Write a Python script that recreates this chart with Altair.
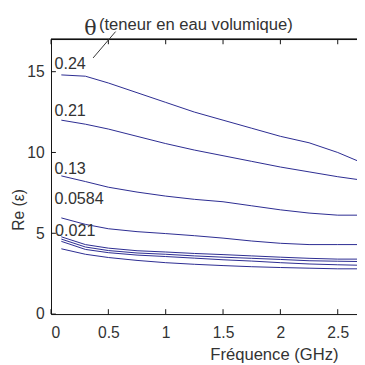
import altair as alt
import pandas as pd

# ---------------- data ----------------
freq = [0.09, 0.3, 0.5, 0.75, 1.0, 1.25, 1.5, 1.75, 2.0, 2.25, 2.5, 2.7]
re_024 = [14.8, 14.72, 14.3, 13.7, 13.1, 12.5, 12.0, 11.5, 11.0, 10.6, 10.0, 9.4]
re_021 = [12.0, 11.75, 11.45, 11.0, 10.55, 10.15, 9.8, 9.45, 9.1, 8.8, 8.5, 8.3]
re_013 = [8.55, 8.2, 7.85, 7.55, 7.3, 7.1, 6.95, 6.7, 6.45, 6.25, 6.12, 6.12]
re_0584 = [5.95, 5.55, 5.28, 5.1, 4.98, 4.85, 4.7, 4.52, 4.38, 4.3, 4.3, 4.3]
re_021a = [4.78, 4.3, 4.08, 3.92, 3.84, 3.75, 3.68, 3.6, 3.52, 3.45, 3.4, 3.4]
re_021b = [4.64, 4.15, 3.93, 3.78, 3.7, 3.6, 3.52, 3.45, 3.38, 3.3, 3.27, 3.25]
re_021c = [4.5, 4.0, 3.8, 3.65, 3.56, 3.46, 3.36, 3.28, 3.18, 3.1, 3.05, 3.02]
re_021d = [4.04, 3.7, 3.5, 3.32, 3.18, 3.08, 3.0, 2.93, 2.88, 2.84, 2.8, 2.8]

series_names = ["0.24", "0.21", "0.13", "0.0584", "0.021a", "0.021b", "0.021c", "0.021d"]
series_values = [re_024, re_021, re_013, re_0584, re_021a, re_021b, re_021c, re_021d]

label_text = ["0.24", "0.21", "0.13", "0.0584", "0.021"]
label_x = [0.03, 0.03, 0.03, 0.03, 0.035]
label_y = [15.18, 12.28, 8.65, 6.84, 4.86]

x_ticks = [0, 0.5, 1, 1.5, 2, 2.5]
y_ticks = [0, 5, 10, 15]

# annotation (theta label + pointer), in data units
theta_x, theta_y = 0.29, 17.27
note_x, note_y = 0.418, 17.58
pointer = {"x": 0.563, "y": 17.48, "x2": 0.367, "y2": 15.85}

# ---------------- build tables ----------------
rows = []
for name, vals in zip(series_names, series_values):
    for f, v in zip(freq, vals):
        rows.append({"serie": name, "f": f, "re": v})
curves = pd.DataFrame(rows)
labels = pd.DataFrame({"t": label_text, "x": label_x, "y": label_y})
xt = pd.DataFrame({"x": x_ticks})
yt = pd.DataFrame({"y": y_ticks})

W, H = 313, 281
XMAX = 2.668
xs = alt.Scale(domain=[0, XMAX], nice=False, zero=False)
ys = alt.Scale(domain=[0, 17], nice=False, zero=False)
FONT = "Liberation Sans"
TXT = "#333333"

lines = alt.Chart(curves).mark_line(color="#28288f", strokeWidth=1, clip=True).encode(
    x=alt.X("f:Q", scale=xs, axis=alt.Axis(
        values=x_ticks, format="~g", tickSize=0, grid=False, domainColor="#111111",
        labelFont=FONT, labelFontSize=16, labelColor=TXT, labelPadding=11,
        title="Fréquence (GHz)", titleFont=FONT, titleFontSize=17,
        titleFontWeight="normal", titleColor=TXT, titleX=228, titleY=33,
        titleBaseline="top", titleAlign="center")),
    y=alt.Y("re:Q", scale=ys, axis=alt.Axis(
        values=y_ticks, format="~g", tickSize=0, grid=False, domainColor="#111111",
        labelFont=FONT, labelFontSize=16, labelColor=TXT, labelPadding=7,
        title="Re (ε)", titleFont=FONT, titleFontSize=16,
        titleFontWeight="normal", titleColor=TXT, titleX=-25, titleY=174,
        titleBaseline="bottom", titleAlign="center", titleAngle=270)),
    detail="serie:N",
)

text_labels = alt.Chart(labels).mark_text(
    align="left", baseline="alphabetic", font=FONT, fontSize=16.5, color=TXT
).encode(x=alt.X("x:Q", scale=xs), y=alt.Y("y:Q", scale=ys), text="t:N")

bottom_ticks = alt.Chart(xt).mark_rule(color="#111111").encode(
    x=alt.X("x:Q", scale=xs), y=alt.value(H), y2=alt.value(H - 5))
top_ticks = alt.Chart(xt).mark_rule(color="#111111").encode(
    x=alt.X("x:Q", scale=xs), y=alt.value(0), y2=alt.value(5))
left_ticks = alt.Chart(yt).mark_rule(color="#111111").encode(
    y=alt.Y("y:Q", scale=ys), x=alt.value(0), x2=alt.value(5))
top_border = alt.Chart(xt).mark_rule(color="#111111").encode(
    x=alt.value(0), x2=alt.value(W), y=alt.value(0))

theta = alt.Chart(pd.DataFrame({"x": [theta_x], "y": [theta_y], "t": ["θ"]})).mark_text(
    align="left", baseline="alphabetic", font="DejaVu Serif", fontSize=21, color=TXT
).encode(x=alt.X("x:Q", scale=xs), y=alt.Y("y:Q", scale=ys), text="t:N")
note = alt.Chart(pd.DataFrame({"x": [note_x], "y": [note_y], "t": ["(teneur en eau volumique)"]})).mark_text(
    align="left", baseline="alphabetic", font=FONT, fontSize=17, color=TXT
).encode(x=alt.X("x:Q", scale=xs), y=alt.Y("y:Q", scale=ys), text="t:N")
pointer_line = alt.Chart(pd.DataFrame([pointer])).mark_rule(color="#333333", strokeWidth=1).encode(
    x=alt.X("x:Q", scale=xs), y=alt.Y("y:Q", scale=ys), x2="x2:Q", y2="y2:Q")

chart = alt.layer(
    lines, text_labels, bottom_ticks, top_ticks, left_ticks, top_border,
    theta, note, pointer_line
).properties(
    width=W, height=H,
    autosize=alt.AutoSizeParams(type="none"),
    padding={"left": 44, "top": 28, "right": 0, "bottom": 47},
).configure_view(stroke=None).configure(background="white")

chart.save("out.html", embed_options={"renderer": "svg", "actions": False})
